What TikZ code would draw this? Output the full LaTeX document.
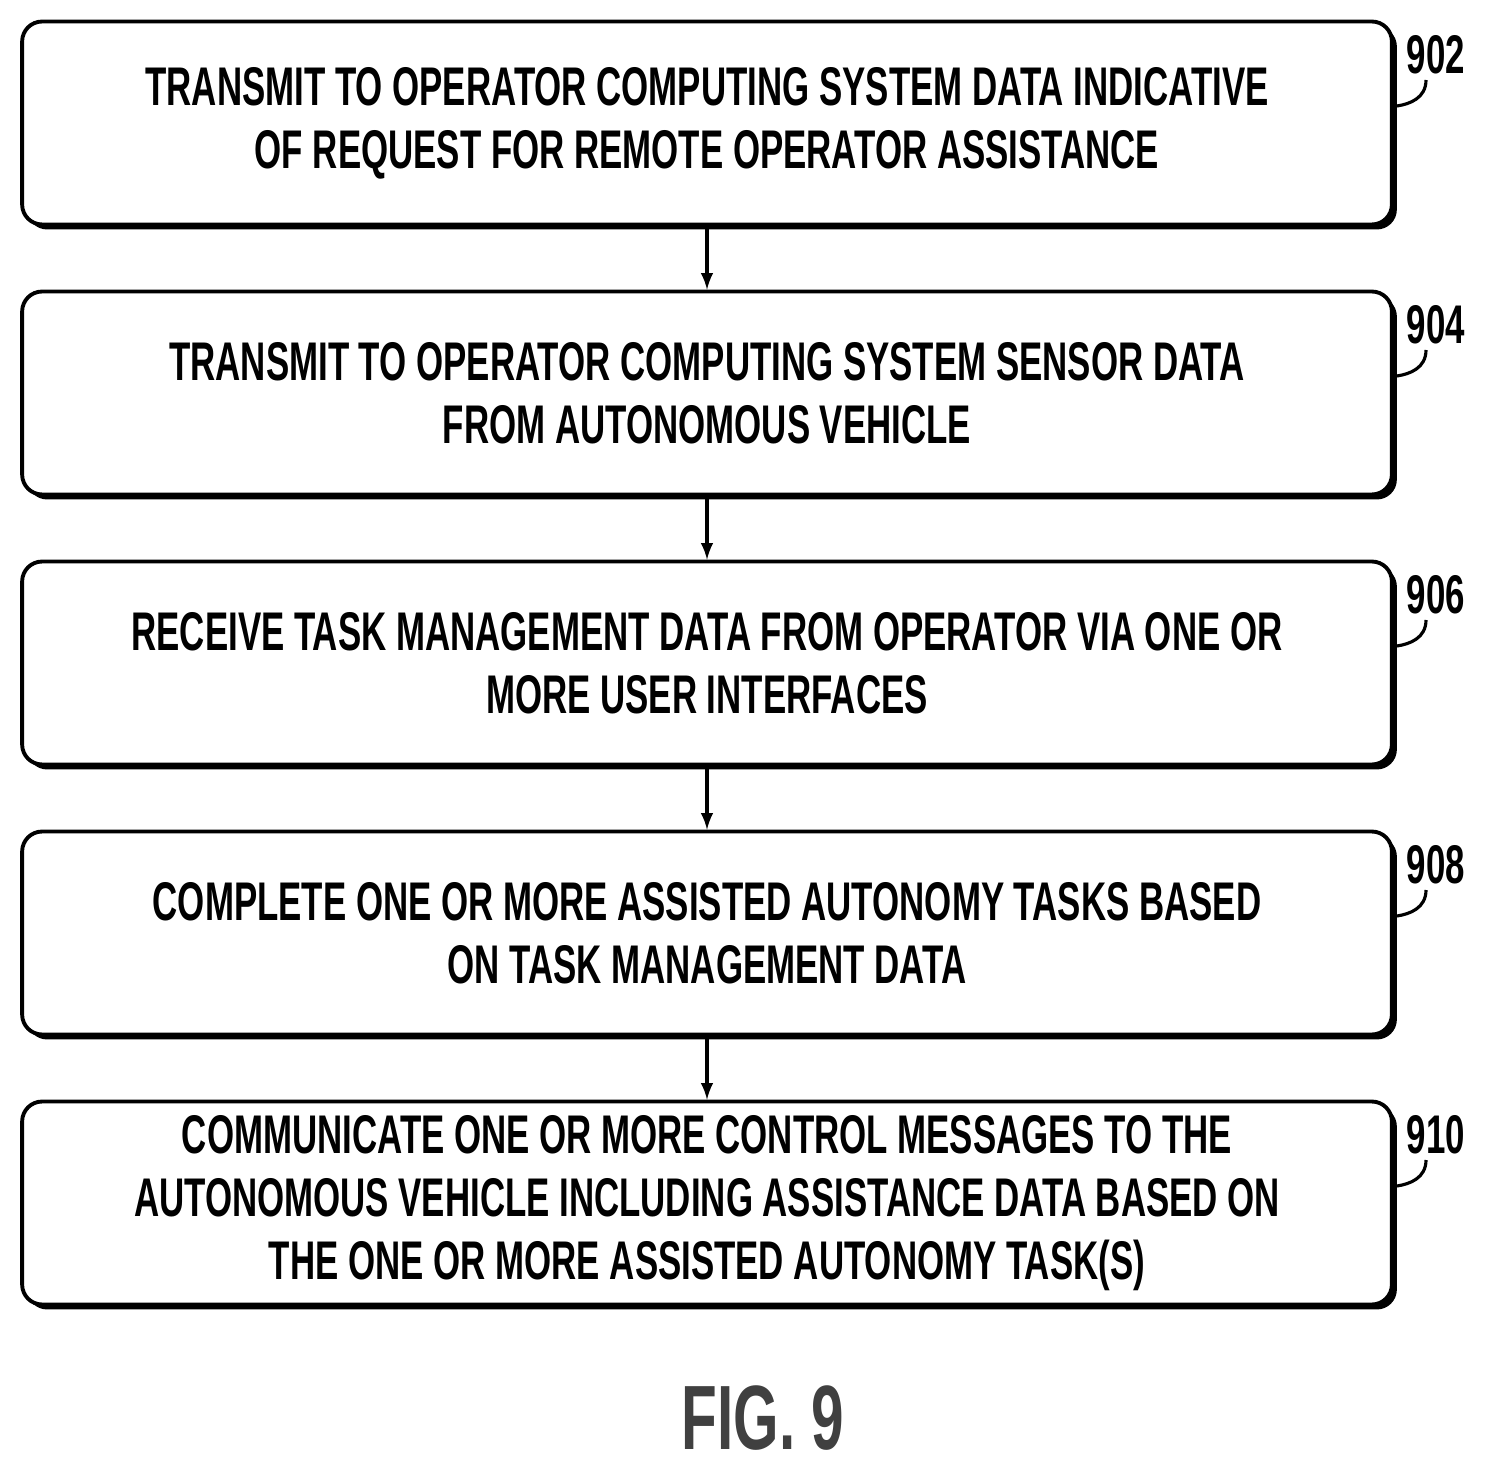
\documentclass[tikz,border=0pt]{standalone}
\usepackage{fontspec}
\setmainfont{Liberation Sans}[FakeStretch=0.64]
\usepackage{tikz}
\usetikzlibrary{shadows}

\tikzset{
    stepbox/.style={rectangle, draw, line width=2.2pt, rounded corners=0.4cm, minimum width=27.4cm, minimum height=4.06cm, align=center, font=\bfseries\fontsize{31}{36}\selectfont, fill=white, drop shadow={shadow xshift=0.1cm, shadow yshift=-0.1cm, opacity=1, fill=black}},
    ref/.style={font=\bfseries\fontsize{31}{36}\selectfont},
    hook/.style={line width=1.8pt}
}

\begin{document}
\begin{tikzpicture}[x=0.02cm, y=-0.02cm]
    \useasboundingbox (0,0) rectangle (1488,1469);
    \node (s902) [stepbox] at (707,123) {TRANSMIT TO OPERATOR COMPUTING SYSTEM DATA INDICATIVE\\OF REQUEST FOR REMOTE OPERATOR ASSISTANCE};
    \node (s904) [stepbox] at (707,393) {TRANSMIT TO OPERATOR COMPUTING SYSTEM SENSOR DATA\\FROM AUTONOMOUS VEHICLE};
    \node (s906) [stepbox] at (707,663) {RECEIVE TASK MANAGEMENT DATA FROM OPERATOR VIA ONE OR\\MORE USER INTERFACES};
    \node (s908) [stepbox] at (707,933) {COMPLETE ONE OR MORE ASSISTED AUTONOMY TASKS BASED\\ON TASK MANAGEMENT DATA};
    \node (s910) [stepbox] at (707,1203) {COMMUNICATE ONE OR MORE CONTROL MESSAGES TO THE\\AUTONOMOUS VEHICLE INCLUDING ASSISTANCE DATA BASED ON\\THE ONE OR MORE ASSISTED AUTONOMY TASK(S)};

    \draw[->, line width=2.2pt, >=latex] (s902) -- (s904);
    \draw[->, line width=2.2pt, >=latex] (s904) -- (s906);
    \draw[->, line width=2.2pt, >=latex] (s906) -- (s908);
    \draw[->, line width=2.2pt, >=latex] (s908) -- (s910);

    % reference numerals
    \foreach \n/\y in {902/0, 904/270, 906/540, 908/810, 910/1080} {
        \node (l\n) [ref] at (1436,55+\y) {\n};
        \draw[hook] (1426,80+\y) .. controls (1426,98+\y) and (1410,104+\y) .. (1397,106+\y);
    }

    \node (fig) [font=\bfseries\fontsize{52}{56}\selectfont, text=black!75] at (763,1418) {FIG. 9};
\end{tikzpicture}
\end{document}
